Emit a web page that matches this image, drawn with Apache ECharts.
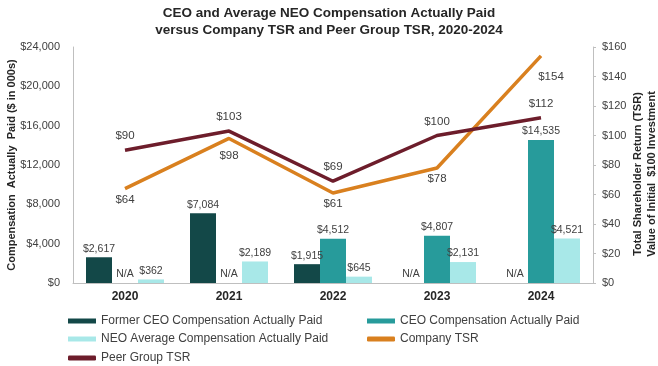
<!DOCTYPE html>
<html>
<head>
<meta charset="utf-8">
<script src="https://cdn.jsdelivr.net/npm/echarts@6/dist/echarts.min.js"></script>
<style>
html,body{margin:0;padding:0;background:#fff;}
#c{width:658px;height:366px;}
</style>
</head>
<body>
<div id="c"></div>
<script>
var years = ['2020', '2021', '2022', '2023', '2024'];
var formerCEO = [2617, 7084, 1915, null, null];
var ceo = [null, null, 4512, 4807, 14535];
var neo = [362, 2189, 645, 2131, 4521];
var companyTSR = [64, 98, 61, 78, 154];
var peerTSR = [90, 103, 69, 100, 112];
var leftTicks = [0, 24000, 4000];
var rightTicks = [0, 160, 20];

var FONT = '"Liberation Sans", Arial, sans-serif';
var TXT = '#404040';

function money(v) {
  return '$' + Number(v).toLocaleString('en-US');
}
function barData(arr) {
  return arr.map(function (v) { return v === null ? 0 : v; });
}
function barLabel(arr) {
  return {
    show: true, position: 'top', distance: 3,
    fontFamily: FONT, fontSize: 10.5, color: TXT,
    formatter: function (p) { return arr[p.dataIndex] === null ? 'N/A' : money(arr[p.dataIndex]); }
  };
}
var companyLabelOffsets = [[0, 0], [0, 6], [0, 0], [0, 0], [10, 10]];

var legendItems = [
  ['Former CEO Compensation Actually Paid', 'rect', 63, 310],
  ['CEO Compensation Actually Paid', 'rect', 362, 310],
  ['NEO Average Compensation Actually Paid', 'rect', 63, 328],
  ['Company TSR', 'roundRect', 362, 328],
  ['Peer Group TSR', 'roundRect', 63, 347]
];

var chart = echarts.init(document.getElementById('c'), null, { renderer: 'canvas' });
chart.setOption({
  animation: false,
  backgroundColor: '#fff',
  textStyle: { fontFamily: FONT },
  title: {
    text: 'CEO and Average NEO Compensation Actually Paid\nversus Company TSR and Peer Group TSR, 2020-2024',
    left: 'center', top: 0,
    textStyle: { fontFamily: FONT, fontSize: 13.5, fontWeight: 'bold', color: '#262626', lineHeight: 17 }
  },
  grid: { left: 73, right: 65, top: 47, bottom: 83, containLabel: false, outerBoundsMode: 'none' },
  legend: legendItems.map(function (it) {
    return {
      left: it[2], top: it[3], itemWidth: 28, itemHeight: 5,
      textStyle: { fontFamily: FONT, fontSize: 12, color: TXT },
      data: [{ name: it[0], icon: it[1] }]
    };
  }),
  xAxis: {
    type: 'category', data: years,
    axisLine: { lineStyle: { color: '#bfbfbf', width: 1 } },
    axisTick: { show: false },
    axisLabel: { fontFamily: FONT, fontSize: 12, fontWeight: 'bold', color: '#262626', margin: 8 }
  },
  yAxis: [
    {
      type: 'value', min: leftTicks[0], max: leftTicks[1], interval: leftTicks[2],
      name: 'Compensation  Actually  Paid ($ in 000s)', nameLocation: 'middle', nameRotate: 90, nameGap: 56,
      nameMoveOverlap: false,
      nameTextStyle: { fontFamily: FONT, fontSize: 11, fontWeight: 'bold', color: '#262626' },
      axisLine: { show: true, lineStyle: { color: '#bfbfbf' } },
      axisTick: { show: false },
      splitLine: { show: false },
      axisLabel: { fontFamily: FONT, fontSize: 11, color: TXT, margin: 13, formatter: money }
    },
    {
      type: 'value', min: rightTicks[0], max: rightTicks[1], interval: rightTicks[2],
      name: 'Total Shareholder Return (TSR)\nValue of Initial  $100 Investment', nameLocation: 'middle', nameRotate: 90, nameGap: 38,
      nameMoveOverlap: false,
      nameTextStyle: { fontFamily: FONT, fontSize: 11, fontWeight: 'bold', color: '#262626', lineHeight: 14, padding: [0, 18, 0, 0] },
      axisLine: { show: true, lineStyle: { color: '#bfbfbf' } },
      axisTick: { show: true, length: 3, lineStyle: { color: '#bfbfbf' } },
      splitLine: { show: false },
      axisLabel: { fontFamily: FONT, fontSize: 11, color: TXT, margin: 9, formatter: function (v) { return '$' + v; } }
    }
  ],
  series: [
    {
      name: 'Former CEO Compensation Actually Paid', type: 'bar', data: barData(formerCEO),
      barGap: '0%', barCategoryGap: '25%', itemStyle: { color: '#134848' }, label: barLabel(formerCEO)
    },
    {
      name: 'CEO Compensation Actually Paid', type: 'bar', data: barData(ceo),
      barGap: '0%', barCategoryGap: '25%', itemStyle: { color: '#279b9b' }, label: barLabel(ceo)
    },
    {
      name: 'NEO Average Compensation Actually Paid', type: 'bar', data: barData(neo),
      barGap: '0%', barCategoryGap: '25%', itemStyle: { color: '#a8e8e8' }, label: barLabel(neo)
    },
    {
      name: 'Company TSR', type: 'line', yAxisIndex: 1,
      data: companyTSR.map(function (v, i) {
        return { value: v, label: { offset: companyLabelOffsets[i] } };
      }),
      symbol: 'circle', symbolSize: 0.1, showSymbol: true,
      lineStyle: { color: '#d9801f', width: 3.5 }, itemStyle: { color: '#d9801f' },
      label: { show: true, position: 'bottom', distance: 5, fontFamily: FONT, fontSize: 11.5, color: TXT,
        formatter: function (p) { return '$' + p.value; } }
    },
    {
      name: 'Peer Group TSR', type: 'line', yAxisIndex: 1, data: peerTSR,
      symbol: 'circle', symbolSize: 0.1, showSymbol: true,
      lineStyle: { color: '#6d1d2b', width: 3.5 }, itemStyle: { color: '#6d1d2b' },
      label: { show: true, position: 'top', distance: 8, fontFamily: FONT, fontSize: 11.5, color: TXT,
        formatter: function (p) { return '$' + p.value; } }
    }
  ]
});
</script>
</body>
</html>
